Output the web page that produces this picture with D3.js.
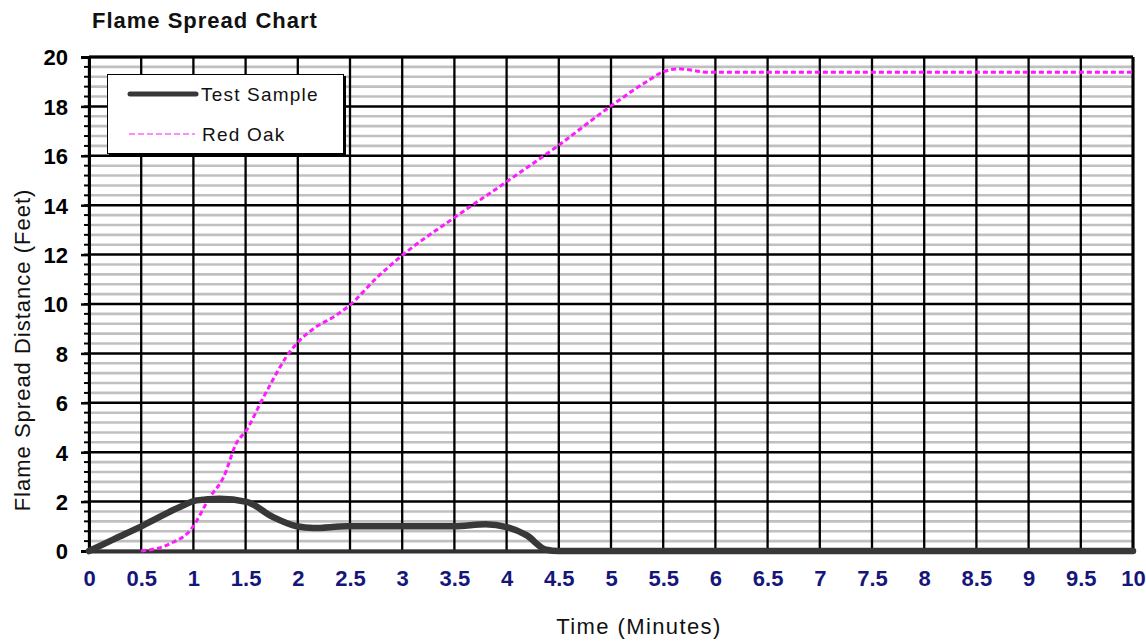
<!DOCTYPE html>
<html>
<head>
<meta charset="utf-8">
<script src="https://cdn.jsdelivr.net/npm/d3@7"></script>
<style>
  body { margin: 0; background: #fff; }
  text { font-family: "Liberation Sans", Arial, sans-serif; }
</style>
</head>
<body>
<div id="chart"></div>
<script>
// data
const testTime  = [0, 0.25, 0.52, 0.87, 1.03, 1.25, 1.51, 1.76, 1.99, 2.15, 2.47, 3.0, 3.5, 3.8, 4.0, 4.19, 4.38, 4.5, 5, 6, 7, 8, 9, 10];
const testValue = [0, 0.5, 1.04, 1.78, 2.05, 2.12, 1.99, 1.38, 1.0, 0.93, 1.0, 1.0, 1.0, 1.08, 0.97, 0.64, 0.05, 0, 0, 0, 0, 0, 0, 0];
const oakTime  = [0.5, 0.78, 0.97, 1.16, 1.29, 1.41, 1.51, 1.64, 1.76, 1.89, 1.99, 2.15, 2.37, 2.5, 2.75, 2.98, 3.49, 4.0, 4.48, 4.99, 5.34, 5.5, 5.64, 5.94, 7, 8, 9, 10];
const oakValue = [0, 0.3, 0.84, 2.19, 3.0, 4.35, 4.9, 5.97, 6.92, 7.86, 8.4, 9.0, 9.55, 9.96, 11.04, 11.9, 13.47, 14.95, 16.37, 17.99, 19.0, 19.4, 19.52, 19.38, 19.38, 19.38, 19.38, 19.38];
const xTicks = d3.range(0, 10.01, 0.5);
const yTicks = d3.range(0, 20.01, 2);
const yMinor = d3.range(0, 20.01, 0.4);

const width = 1146, height = 641;
const margin = { left: 89, right: 13, top: 57, bottom: 90 };

const svg = d3.select("#chart").append("svg").attr("width", width).attr("height", height);

const x = d3.scaleLinear().domain([0, 10]).range([margin.left, width - margin.right]);
const y = d3.scaleLinear().domain([0, 20]).range([height - margin.bottom, margin.top]);

// minor grey gridlines
svg.append("g").selectAll("line")
  .data(yMinor.filter(v => Math.abs(v / 2 - Math.round(v / 2)) > 0.01))
  .join("line")
  .attr("x1", x(0)).attr("x2", x(10))
  .attr("y1", d => y(d)).attr("y2", d => y(d))
  .attr("stroke", "#c0c0c0").attr("stroke-width", 2.6);

// major horizontal gridlines
svg.append("g").selectAll("line")
  .data(yTicks)
  .join("line")
  .attr("x1", x(0)).attr("x2", x(10))
  .attr("y1", d => y(d)).attr("y2", d => y(d))
  .attr("stroke", "#000").attr("stroke-width", 2.5);

// vertical gridlines
svg.append("g").selectAll("line")
  .data(xTicks)
  .join("line")
  .attr("x1", d => x(d)).attr("x2", d => x(d))
  .attr("y1", y(0)).attr("y2", y(20))
  .attr("stroke", "#000").attr("stroke-width", 2.3);

// y axis
const yAxis = svg.append("g").attr("transform", `translate(${x(0)},0)`)
  .call(d3.axisLeft(y).tickValues(yTicks).tickSize(8).tickFormat(d3.format("d")));
yAxis.select(".domain").attr("stroke", "#000").attr("stroke-width", 3);
yAxis.selectAll(".tick line").attr("stroke", "#000").attr("stroke-width", 2.5);
yAxis.selectAll(".tick text")
  .attr("x", -21).attr("dy", "0.36em")
  .attr("font-size", 22).attr("font-weight", "bold").attr("fill", "#000")
  .style("font-family", "'Liberation Sans', Arial, sans-serif");

svg.append("g").selectAll("line")
  .data(yMinor)
  .join("line")
  .attr("x1", x(0) - 5).attr("x2", x(0))
  .attr("y1", d => y(d)).attr("y2", d => y(d))
  .attr("stroke", "#000").attr("stroke-width", 2);

// x axis
const xAxis = svg.append("g").attr("transform", `translate(0,${y(0)})`)
  .call(d3.axisBottom(x).tickValues(xTicks).tickSize(0).tickPadding(19).tickFormat(d3.format("")));
xAxis.select(".domain").attr("stroke", "#333").attr("stroke-width", 4);
xAxis.selectAll(".tick text")
  .attr("font-size", 22).attr("font-weight", "bold").attr("fill", "#16167a")
  .style("font-family", "'Liberation Sans', Arial, sans-serif");

// frame top/right
svg.append("line").attr("x1", x(0)).attr("x2", x(10)).attr("y1", y(20)).attr("y2", y(20))
  .attr("stroke", "#000").attr("stroke-width", 3);
svg.append("line").attr("x1", x(10)).attr("x2", x(10)).attr("y1", y(20)).attr("y2", y(0))
  .attr("stroke", "#000").attr("stroke-width", 3);

// series
const line = d3.line().x(d => x(d[0])).y(d => y(d[1])).curve(d3.curveMonotoneX);

svg.append("path")
  .datum(oakTime.map((t, i) => [t, oakValue[i]]))
  .attr("d", line)
  .attr("fill", "none").attr("stroke", "#ff1aff").attr("stroke-width", 3)
  .attr("stroke-dasharray", "5,3");

svg.append("path")
  .datum(testTime.map((t, i) => [t, testValue[i]]))
  .attr("d", line)
  .attr("fill", "none").attr("stroke", "#383838").attr("stroke-width", 6.5)
  .attr("stroke-linecap", "round");

// legend
const lg = svg.append("g");
lg.append("rect").attr("x", 109).attr("y", 76).attr("width", 237).attr("height", 81).attr("fill", "#000");
lg.append("rect").attr("x", 107.5).attr("y", 74.5).attr("width", 236).attr("height", 79)
  .attr("fill", "#fff").attr("stroke", "#000").attr("stroke-width", 1);
lg.append("line").attr("x1", 130).attr("x2", 196).attr("y1", 94).attr("y2", 94)
  .attr("stroke", "#383838").attr("stroke-width", 5).attr("stroke-linecap", "round");
lg.append("line").attr("x1", 129).attr("x2", 195).attr("y1", 134).attr("y2", 134)
  .attr("stroke", "#ff1aff").attr("stroke-width", 1).attr("stroke-dasharray", "6,3");
lg.append("text").attr("x", 201).attr("y", 101).attr("font-size", 19).attr("letter-spacing", 1.2)
  .attr("fill", "#111").text("Test Sample");
lg.append("text").attr("x", 202).attr("y", 141).attr("font-size", 19).attr("letter-spacing", 1.2)
  .attr("fill", "#111").text("Red Oak");

// titles
svg.append("text").attr("x", 92).attr("y", 28).attr("font-size", 22).attr("font-weight", "bold")
  .attr("letter-spacing", 1).attr("fill", "#111").text("Flame Spread Chart");

svg.append("text").attr("x", (x(0) + x(10)) / 2 + 28).attr("y", 634).attr("text-anchor", "middle")
  .attr("font-size", 22).attr("letter-spacing", 1.4).attr("fill", "#111").text("Time (Minutes)");

svg.append("text").attr("transform", "translate(30,350) rotate(-90)").attr("text-anchor", "middle")
  .attr("font-size", 22).attr("letter-spacing", 1).attr("fill", "#111")
  .text("Flame Spread Distance (Feet)");
</script>
</body>
</html>
